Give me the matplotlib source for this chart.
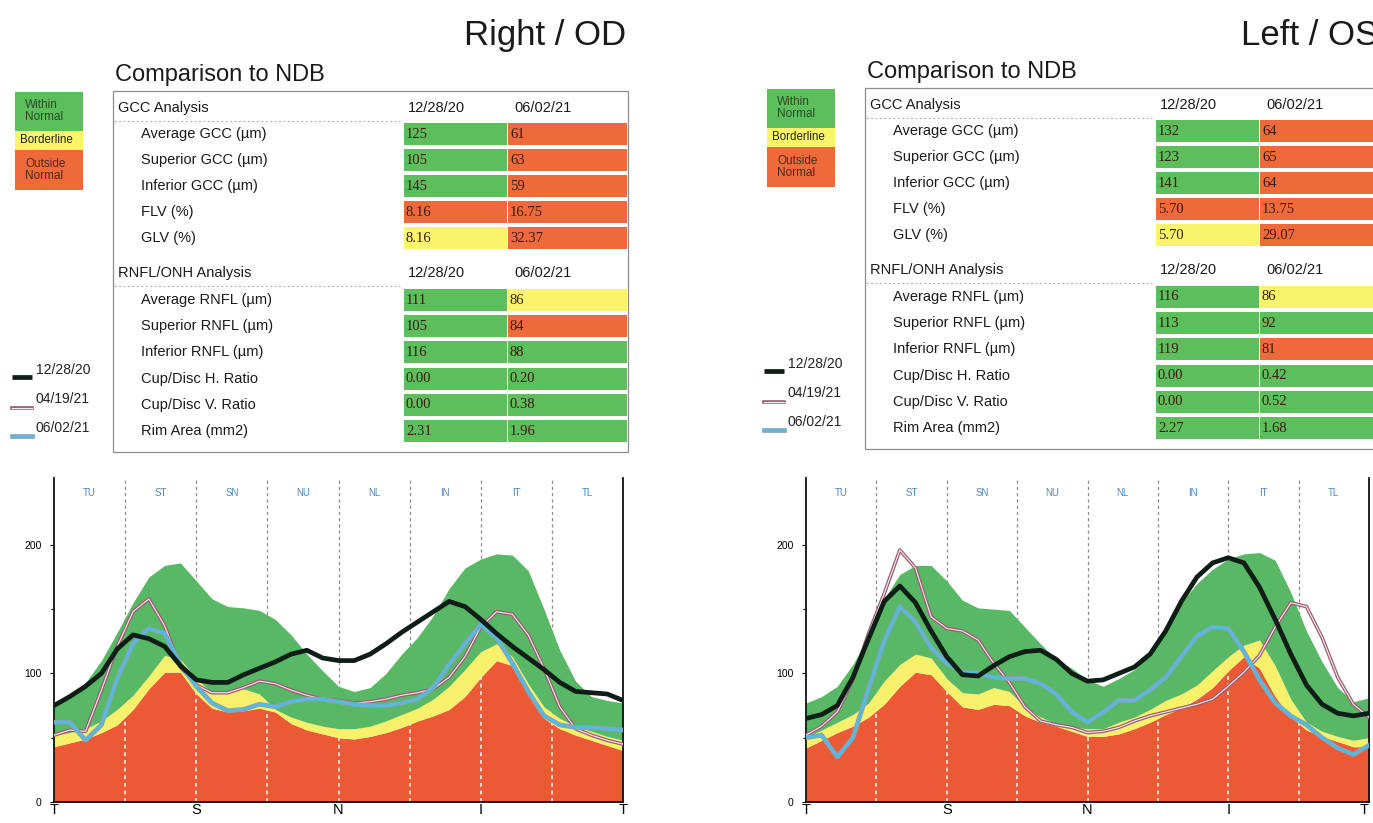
import numpy as np
import matplotlib
matplotlib.use("Agg")
import matplotlib.pyplot as plt
from matplotlib.patches import Rectangle
import matplotlib.patheffects as pe

plt.rcParams["font.family"] = ["Liberation Sans", "DejaVu Sans"]

W, H = 1373, 823

# ---- data -------------------------------------------------------------
angles = np.arange(0, 361, 10)
sectors = ["TU", "ST", "SN", "NU", "NL", "IN", "IT", "TL"]
quadrants = ["T", "S", "N", "I", "T"]
scan_dates = ["12/28/20", "04/19/21", "06/02/21"]
table_dates = ["12/28/20", "06/02/21"]

gcc_labels = ["Average GCC (µm)", "Superior GCC (µm)", "Inferior GCC (µm)", "FLV (%)", "GLV (%)"]
rnfl_labels = ["Average RNFL (µm)", "Superior RNFL (µm)", "Inferior RNFL (µm)",
               "Cup/Disc H. Ratio", "Cup/Disc V. Ratio", "Rim Area (mm2)"]

od_gcc_1 = ["125", "105", "145", "8.16", "8.16"]
od_gcc_2 = ["61", "63", "59", "16.75", "32.37"]
od_gcc_s1 = ["G", "G", "G", "O", "Y"]
od_gcc_s2 = ["O", "O", "O", "O", "O"]
od_rnfl_1 = ["111", "105", "116", "0.00", "0.00", "2.31"]
od_rnfl_2 = ["86", "84", "88", "0.20", "0.38", "1.96"]
od_rnfl_s1 = ["G", "G", "G", "G", "G", "G"]
od_rnfl_s2 = ["Y", "O", "G", "G", "G", "G"]

os_gcc_1 = ["132", "123", "141", "5.70", "5.70"]
os_gcc_2 = ["64", "65", "64", "13.75", "29.07"]
os_gcc_s1 = ["G", "G", "G", "O", "Y"]
os_gcc_s2 = ["O", "O", "O", "O", "O"]
os_rnfl_1 = ["116", "113", "119", "0.00", "0.00", "2.27"]
os_rnfl_2 = ["86", "92", "81", "0.42", "0.52", "1.68"]
os_rnfl_s1 = ["G", "G", "G", "G", "G", "G"]
os_rnfl_s2 = ["Y", "G", "O", "G", "G", "G"]

# normative limits (1st, 5th, 95th percentile) and scans, right eye
od_p1 = [43, 46, 49, 54, 60, 72, 88, 101, 101, 84, 73, 70, 71, 73, 70, 61, 56, 53, 50,
         49, 51, 54, 58, 63, 67, 72, 82, 97, 110, 106, 84, 65, 57, 52, 48, 44, 40]
od_p5 = [52, 54, 57, 63, 72, 83, 98, 114, 111, 96, 85, 86, 88, 84, 72, 66, 62, 59, 57,
         57, 59, 63, 68, 73, 80, 90, 103, 117, 123, 113, 92, 74, 65, 59, 55, 51, 48]
od_p95 = [75, 83, 93, 110, 132, 155, 175, 184, 186, 172, 158, 152, 151, 149, 142, 130, 115, 102, 90,
          86, 89, 100, 115, 128, 145, 166, 182, 189, 193, 192, 180, 150, 118, 94, 82, 79, 77]
od_scan1 = [75, 82, 90, 100, 119, 130, 127, 121, 106, 95, 93, 93, 99, 104, 109, 115, 118, 112, 110,
            110, 115, 123, 132, 140, 148, 156, 152, 142, 131, 121, 112, 103, 93, 86, 85, 84, 79]
od_scan2 = [52, 56, 55, 87, 121, 148, 158, 137, 105, 91, 85, 85, 89, 94, 92, 87, 83, 80, 79,
            77, 78, 80, 83, 85, 88, 97, 113, 136, 148, 146, 130, 104, 74, 57, 52, 48, 45]
od_scan3 = [62, 62, 48, 60, 96, 123, 135, 131, 107, 90, 77, 71, 72, 76, 74, 78, 80, 80, 78,
            76, 75, 75, 77, 80, 89, 107, 123, 138, 128, 108, 86, 67, 60, 58, 58, 57, 56]

# left eye
os_p1 = [42, 48, 54, 59, 66, 76, 90, 101, 99, 86, 74, 72, 76, 75, 67, 62, 59, 55, 51,
         51, 53, 57, 62, 68, 73, 80, 89, 102, 113, 104, 82, 66, 56, 51, 47, 43, 43]
os_p5 = [50, 56, 62, 68, 77, 94, 107, 115, 112, 96, 85, 84, 89, 86, 74, 66, 61, 58, 57,
         57, 62, 66, 72, 79, 84, 91, 102, 113, 122, 126, 106, 80, 62, 55, 51, 48, 50]
os_p95 = [77, 82, 90, 107, 129, 158, 177, 184, 184, 172, 157, 151, 150, 149, 136, 123, 111, 104, 95,
          90, 96, 103, 115, 134, 155, 170, 181, 189, 193, 194, 188, 163, 133, 109, 89, 78, 81]
os_scan1 = [65, 68, 75, 97, 127, 156, 168, 155, 133, 113, 99, 98, 106, 113, 117, 118, 111, 100, 94,
            95, 100, 105, 115, 133, 156, 175, 186, 190, 186, 167, 142, 115, 91, 76, 69, 67, 69]
os_scan2 = [52, 59, 70, 95, 131, 162, 196, 182, 144, 135, 133, 126, 108, 93, 74, 63, 60, 58, 54,
            55, 58, 63, 67, 70, 73, 76, 80, 90, 101, 114, 136, 155, 152, 128, 97, 76, 66]
os_scan3 = [50, 52, 35, 50, 88, 125, 152, 140, 120, 108, 101, 100, 97, 96, 96, 92, 84, 70, 62,
            70, 79, 79, 87, 97, 113, 129, 136, 135, 117, 95, 77, 67, 60, 50, 42, 37, 44]

# ---- style ------------------------------------------------------------
ORANGE = "#EC5A35"
YELLOW = "#F7F06A"
GREEN = "#58B866"
CELL = {"G": "#5DBF5B", "Y": "#FAF36C", "O": "#EF6A3B"}
BLACK_LINE = "#0e1d16"
PINK = "#9c5b73"
CYAN = "#56BAE0"

fig = plt.figure(figsize=(W / 100, H / 100), dpi=100)
ov = fig.add_axes([0, 0, 1, 1], zorder=0)
ov.set_xlim(0, W)
ov.set_ylim(H, 0)
ov.axis("off")


def scan_line(ax, x, y, kind, **kw):
    if kind == 0:
        ax.plot(x, y, color=BLACK_LINE, lw=3.4, solid_capstyle="butt",
                solid_joinstyle="round", zorder=5, **kw)
    elif kind == 1:
        ax.plot(x, y, color="#f4ecee", lw=0.8, zorder=3, solid_joinstyle="round",
                path_effects=[pe.Stroke(linewidth=2.6, foreground=PINK), pe.Normal()], **kw)
    else:
        ax.plot(x, y, color=CYAN, lw=2.0, zorder=4, solid_joinstyle="round",
                path_effects=[pe.Stroke(linewidth=3.4, foreground="#8aa2b4"), pe.Normal()], **kw)


def draw_panel(dx, dy, title, gcc1, gcc2, gs1, gs2, rn1, rn2, rs1, rs2,
               p1, p5, p95, scans, right_px, ldy):
    # titles
    ov.text(626 + dx, 35, title, ha="right", va="center", fontsize=25, color="#1a1a1a")
    ov.text(115 + dx, 75 + dy, "Comparison to NDB", ha="left", va="center", fontsize=17,
            color="#1a1a1a")

    # NDB colour key
    ov.add_patch(Rectangle((15 + dx, 92 + dy), 68, 39, color=CELL["G"], lw=0))
    ov.add_patch(Rectangle((15 + dx, 131 + dy), 68, 19, color=CELL["Y"], lw=0))
    ov.add_patch(Rectangle((15 + dx, 150 + dy), 68, 40, color=CELL["O"], lw=0))
    ov.text(25 + dx, 111 + dy, "Within\nNormal", fontsize=8.5, va="center", color="#2c4a2c",
            linespacing=1.05)
    ov.text(20 + dx, 140 + dy, "Borderline", fontsize=8.3, va="center", color="#222")
    ov.text(25 + dx, 170 + dy, "Outside\nNormal", fontsize=8.5, va="center", color="#4a2a20",
            linespacing=1.05)

    # scan legend
    for k, (yl, yt) in enumerate([(377, 370), (408, 399), (436, 428)]):
        xs = [12 + dx, 32 + dx]
        scan_line(ov, xs, [yl + ldy, yl + ldy], k)
        ov.text(36 + dx, yt + ldy, scan_dates[k], fontsize=10, va="center", color="#222")

    # table
    ov.add_patch(Rectangle((113 + dx, 91 + dy), 515, 361, fill=False, ec="#8c8c8c", lw=0.9))
    sections = [("GCC Analysis", 108, 134, 26.0, gcc_labels, gcc1, gcc2, gs1, gs2),
                ("RNFL/ONH Analysis", 273, 300, 26.2, rnfl_labels, rn1, rn2, rs1, rs2)]
    for head, yh, y0, step, labels, v1, v2, s1, s2 in sections:
        ov.text(118 + dx, yh + dy, head, fontsize=10.5, va="center", color="#1a1a1a")
        ov.text(408 + dx, yh + dy, table_dates[0], fontsize=10.5, va="center", color="#1a1a1a")
        ov.text(514 + dx, yh + dy, table_dates[1], fontsize=10.5, va="center", color="#1a1a1a")
        ov.plot([114 + dx, 400 + dx], [yh + 13 + dy] * 2, color="#b5b5b5", lw=0.8, ls=(0, (2, 2)))
        for i, lab in enumerate(labels):
            yc = y0 + step * i + dy
            ov.add_patch(Rectangle((404 + dx, yc - 11), 103, 22, color=CELL[s1[i]], lw=0))
            ov.add_patch(Rectangle((508 + dx, yc - 11), 119, 22, color=CELL[s2[i]], lw=0))
            ov.text(141 + dx, yc, lab, fontsize=10.5, va="center", color="#1a1a1a")
            ov.text(406 + dx, yc, v1[i], fontsize=10.5, va="center", color="#3a1a12",
                    family="Liberation Serif")
            ov.text(510 + dx, yc, v2[i], fontsize=10.5, va="center", color="#3a1a12",
                    family="Liberation Serif")

    # TSNIT plot
    left, top, bottom = 54 + dx, 478, 802
    ax = fig.add_axes([left / W, (H - bottom) / H, (right_px - left) / W, (bottom - top) / H],
                      zorder=2)
    orange = ax.fill_between(angles, 0, p1, color=ORANGE, lw=0, zorder=1)
    ax.fill_between(angles, p1, p5, color=YELLOW, lw=0, zorder=1)
    ax.fill_between(angles, p5, p95, color=GREEN, lw=0, zorder=1)
    clip = orange.get_paths()[0]
    for b in range(45, 360, 45):
        ax.axvline(b, color="#8a8a8a", lw=0.9, ls=(0, (2.5, 2.5)), zorder=0.5)
        wl = ax.axvline(b, color="white", lw=1.1, ls=(0, (2.5, 2.5)), zorder=1.5)
        wl.set_clip_path(clip, ax.transData)
    for k, name in enumerate(sectors):
        ax.text(22.5 + 45 * k, 240, name, color="#4a86c0", fontsize=7, ha="center", va="center")
    for k in (1, 2, 0):
        scan_line(ax, angles, scans[k], k)
    ax.set_xlim(0, 360)
    ax.set_ylim(0, 252)
    ax.set_xticks(np.arange(0, 361, 90), quadrants, fontsize=10.5)
    ax.tick_params(axis="x", length=0, pad=1)
    ax.set_yticks([0, 100, 200])
    ax.set_yticks([50, 150], minor=True)
    ax.tick_params(axis="y", labelsize=7.5, length=3, width=0.8, pad=6)
    ax.tick_params(axis="y", which="minor", length=2, width=0.8)
    ax.spines["top"].set_visible(False)
    for s in ("left", "right", "bottom"):
        ax.spines[s].set_linewidth(1.3)
        ax.spines[s].set_color("#111")
    ax.patch.set_alpha(0)
    return ax


draw_panel(0, 0, "Right / OD", od_gcc_1, od_gcc_2, od_gcc_s1, od_gcc_s2,
           od_rnfl_1, od_rnfl_2, od_rnfl_s1, od_rnfl_s2,
           od_p1, od_p5, od_p95, [od_scan1, od_scan2, od_scan3], 623, 0)
ax_os = draw_panel(752, -3, "Left / OS", os_gcc_1, os_gcc_2, os_gcc_s1, os_gcc_s2,
                   os_rnfl_1, os_rnfl_2, os_rnfl_s1, os_rnfl_s2,
                   os_p1, os_p5, os_p95, [os_scan1, os_scan2, os_scan3], 1369, -6)
ax_os.get_xticklabels()[-1].set_horizontalalignment("right")

fig.savefig("out.png", dpi=100)
